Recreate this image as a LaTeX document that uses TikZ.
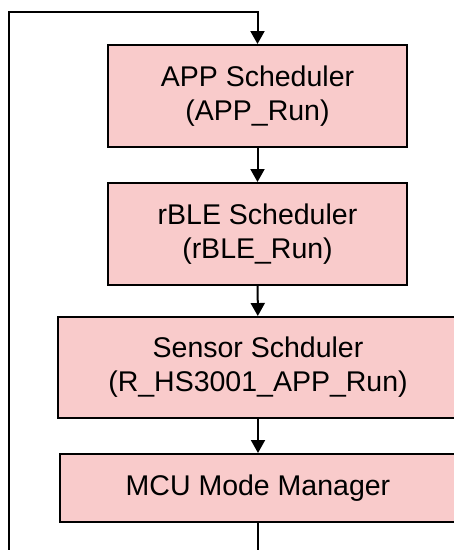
\documentclass[tikz,border=0pt]{standalone}
\usepackage{fontspec}
\setmainfont{Liberation Sans}
\usetikzlibrary{arrows.meta}

\tikzset{
    bloco/.style={draw, line width=2pt, fill=rosa, align=center,
        font=\fontsize{28.5}{34}\selectfont, inner sep=0pt},
    seta/.style={line width=2pt, -{Triangle[length=13pt,width=14pt]}}
}
\definecolor{rosa}{RGB}{249,203,203}

\begin{document}
\begin{tikzpicture}[x=1pt, y=1pt]
    \useasboundingbox (0,0) rectangle (454,-550);
    \clip (0,0) rectangle (454,-550);

    % blocos
    \node[bloco, minimum width=299pt, minimum height=102pt] (app) at (257.5,-96)
        {APP Scheduler\\(APP\_Run)};
    \node[bloco, minimum width=299pt, minimum height=102pt] (rble) at (257.5,-234)
        {rBLE Scheduler\\(rBLE\_Run)};
    \node[bloco, minimum width=400pt, minimum height=101pt] (sensor) at (258,-367.5)
        {Sensor Schduler\\(R\_HS3001\_APP\_Run)};
    \node[bloco, minimum width=396pt, minimum height=68pt] (mcu) at (258,-488)
        {MCU Mode Manager};

    % pontos do laco
    \coordinate (fim) at (258,-552);
    \coordinate (volta) at (9,-552);
    \coordinate (canto) at (9,-12);

    % setas
    \draw[seta] (app) -- (rble);
    \draw[seta] (rble) -- (sensor);
    \draw[seta] (sensor) -- (mcu);
    \draw[line width=2pt] (mcu) -- (fim);
    \draw[seta] (volta) -- (canto) -| (app.north);

\end{tikzpicture}
\end{document}
